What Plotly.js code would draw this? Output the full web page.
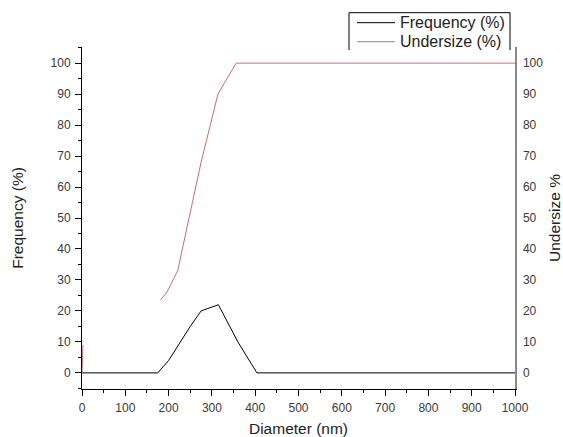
<!DOCTYPE html>
<html>
<head>
<meta charset="utf-8">
<script src="https://cdn.plot.ly/plotly-3.0.1.min.js"></script>
<style>html,body{margin:0;padding:0;background:#fff;}#chart{width:563px;height:437px;}</style>
</head>
<body>
<div id="chart"></div>
<script>
// Frequency (%) vs Diameter (nm)
const freqDiameter = [0, 175, 200, 250, 275, 315, 360, 404, 1000];
const freqValues   = [0, 0, 4, 15, 20, 22, 10, 0, 0];
// Undersize (%) vs Diameter (nm); null separates the small spike near 0
const underDiameter = [0, 2, null, 181, 196, 221, 250, 275, 314, 356, 1000];
const underValues   = [0, 9, null, 23.5, 26, 33, 52, 68, 90, 100, 100];
const yTicks = [0, 10, 20, 30, 40, 50, 60, 70, 80, 90, 100];
const xTicks = [0, 100, 200, 300, 400, 500, 600, 700, 800, 900, 1000];
const seriesNames = ['Frequency (%)', 'Undersize (%)'];
const seriesColors = ['#000000', '#d46a6a'];

const FAM = 'Liberation Sans, Arial, sans-serif';
const tickFont = {family: FAM, size: 12, color: '#3a3a3a'};
const titleFont = {family: FAM, size: 15.5, color: '#222'};

const traces = [
  {x: freqDiameter, y: freqValues, name: seriesNames[0], type: 'scatter', mode: 'lines',
   line: {color: seriesColors[0], width: 1}},
  {x: underDiameter, y: underValues, name: seriesNames[1], type: 'scatter', mode: 'lines',
   yaxis: 'y2', line: {color: seriesColors[1], width: 1}}
];

// hand-drawn legend box (open at the bottom like the reference)
const lx0 = 0.6166, lx1 = 0.9885, lyTop = 1.1003, lyBot = 0.9912;
const shapes = [
  {type: 'path', xref: 'paper', yref: 'paper',
   path: `M ${lx0},${lyBot} L ${lx0},${lyTop} L ${lx1},${lyTop} L ${lx1},${lyBot}`,
   line: {color: '#000', width: 1}},
];
const rowY = [1.0711, 1.0155];
const annotations = [];
seriesNames.forEach((n, i) => {
  shapes.push({type: 'line', xref: 'paper', yref: 'paper', x0: 0.6351, x1: 0.7229,
    y0: rowY[i], y1: rowY[i], line: {color: seriesColors[i], width: 1}});
  annotations.push({xref: 'paper', yref: 'paper', x: 0.7298, y: rowY[i],
    xanchor: 'left', yanchor: 'middle', showarrow: false, text: n,
    font: {family: FAM, size: 16, color: '#222'}});
});

const layout = {
  width: 563, height: 437,
  margin: {l: 82, r: 48, t: 47, b: 48},
  paper_bgcolor: '#fff', plot_bgcolor: '#fff',
  font: tickFont,
  showlegend: false,
  shapes: shapes,
  annotations: annotations,
  xaxis: {range: [0, 1000], tickvals: xTicks, ticktext: xTicks.map(String),
    showgrid: false, zeroline: false, showline: true, linecolor: '#000', linewidth: 1,
    ticks: 'outside', ticklen: 6, tickcolor: '#000', ticklabelstandoff: 2,
    minor: {dtick: 50, ticks: 'outside', ticklen: 3, tickcolor: '#000', showgrid: false},
    title: {text: 'Diameter (nm)', font: titleFont, standoff: 9},
    tickfont: tickFont},
  yaxis: {range: [-5.2, 105.2], tickvals: yTicks, ticktext: yTicks.map(String),
    showgrid: false, zeroline: false, showline: true, linecolor: '#000', linewidth: 1,
    ticks: 'outside', ticklen: 6, tickcolor: '#000', ticklabelstandoff: 2,
    minor: {dtick: 5, ticks: 'outside', ticklen: 3, tickcolor: '#000', showgrid: false},
    title: {text: 'Frequency (%)', font: titleFont, standoff: 23},
    tickfont: tickFont},
  yaxis2: {range: [-5.2, 105.2], overlaying: 'y', side: 'right',
    tickvals: yTicks, ticktext: yTicks.map(String),
    showgrid: false, zeroline: false, showline: true, linecolor: '#888', linewidth: 1.5,
    ticks: '', ticklabelstandoff: 4,
    title: {text: 'Undersize %', font: titleFont, standoff: 12},
    tickfont: tickFont}
};

Plotly.newPlot('chart', traces, layout, {displayModeBar: false, staticPlot: true});
</script>
</body>
</html>
